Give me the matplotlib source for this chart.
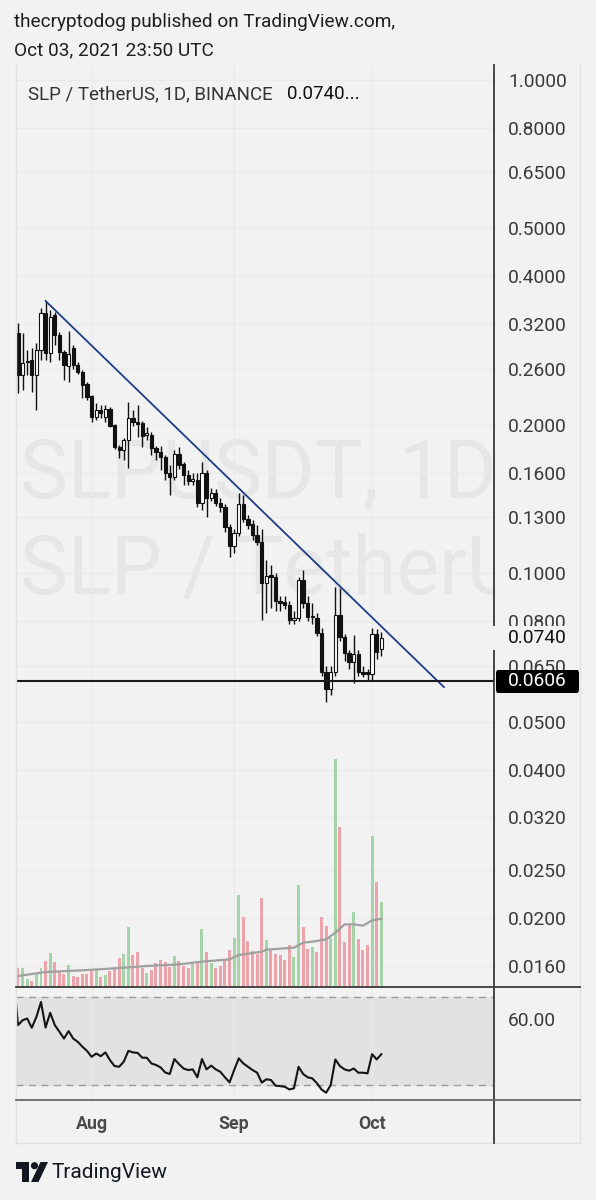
import numpy as np
import pandas as pd
import matplotlib
matplotlib.use('Agg')
import matplotlib.pyplot as plt
from matplotlib.lines import Line2D
from matplotlib.patches import Rectangle, Polygon, Circle, FancyBboxPatch
from matplotlib.ticker import NullLocator, NullFormatter

plt.rcParams['font.family'] = ['Roboto', 'DejaVu Sans']

# SLP / USDT daily candles on Binance, 16 Jul - 3 Oct 2021
dates = pd.date_range('2021-07-16', periods=80, freq='D')
opens = [.3069, .2523, .2682, .2706, .2523, .2836, .3370, .2796, .3339, .3041,
         .2809, .2632, .2862, .2645, .2559, .2420, .2288, .2074, .2143, .2074,
         .2153, .1998, .1803, .1778, .1863, .2065, .2027, .2017, .1907, .1907,
         .1795, .1762, .1721, .1597, .1567, .1745, .1665, .1582, .1538, .1545,
         .1388, .1597, .1421, .1455, .1388, .1362, .1241, .1136, .1207, .1381,
         .1288, .1259, .1196, .1157, .0955, .0990, .0983, .0878, .0874, .0862,
         .0804, .0811, .0969, .0870, .0815, .0811, .0757, .0631, .0583, .0631,
         .0823, .0743, .0689, .0661, .0686, .0631, .0631, .0625, .0753, .0702]
highs = [.3217, .3069, .2836, .2862, .2930, .3449, .3565, .3418, .3386, .3084,
         .2830, .3098, .2900, .2680, .2580, .2440, .2300, .2215, .2190, .2195,
         .2170, .2010, .1820, .1880, .2225, .2143, .2195, .2040, .1980, .1930,
         .1810, .1815, .1740, .1658, .1778, .1803, .1680, .1620, .1600, .1600,
         .1681, .1620, .1490, .1480, .1421, .1380, .1260, .1230, .1455, .1440,
         .1310, .1280, .1253, .1230, .1064, .1038, .1000, .0900, .0900, .0880,
         .0840, .0983, .1017, .0900, .0870, .0830, .0775, .0650, .0650, .0938,
         .0935, .0755, .0700, .0750, .0700, .0650, .0640, .0775, .0770, .0760]
lows = [.2320, .2352, .2523, .2331, .2143, .2706, .2706, .2682, .2903, .2706,
        .2465, .2442, .2600, .2530, .2266, .2250, .2027, .2050, .2060, .2027,
        .1980, .1790, .1713, .1700, .1635, .1990, .1889, .1803, .1863, .1740,
        .1700, .1620, .1545, .1440, .1545, .1630, .1510, .1510, .1510, .1362,
        .1343, .1300, .1400, .1370, .1330, .1210, .1079, .1100, .1190, .1270,
        .1230, .1170, .1140, .0804, .0831, .0850, .0840, .0840, .0845, .0790,
        .0790, .0800, .0850, .0800, .0790, .0745, .0620, .0548, .0566, .0620,
        .0730, .0665, .0640, .0600, .0620, .0615, .0606, .0608, .0670, .0680]
closes = [.2523, .2669, .2694, .2523, .2836, .3370, .2796, .3308, .3041, .2809,
          .2645, .2783, .2645, .2559, .2408, .2277, .2074, .2143, .2113, .2153,
          .1989, .1803, .1778, .1863, .2065, .2027, .2010, .1898, .1925, .1795,
          .1762, .1721, .1597, .1567, .1745, .1658, .1582, .1538, .1550, .1388,
          .1597, .1421, .1455, .1388, .1362, .1241, .1136, .1207, .1381, .1288,
          .1253, .1196, .1157, .0955, .0988, .0983, .0878, .0870, .0862, .0804,
          .0811, .0969, .0870, .0815, .0818, .0757, .0631, .0583, .0631, .0823,
          .0743, .0689, .0661, .0686, .0631, .0625, .0625, .0753, .0692, .0740]
volume_m = [58, 58, 23, 18, 43, 56, 78, 101, 75, 48,
            40, 65, 33, 31, 38, 38, 50, 51, 31, 36,
            48, 60, 86, 98, 181, 96, 106, 58, 43, 50,
            73, 82, 76, 60, 92, 78, 63, 58, 68, 75,
            174, 104, 72, 56, 63, 80, 110, 146, 276, 210,
            138, 108, 98, 268, 140, 110, 100, 96, 82, 126,
            90, 305, 181, 114, 121, 104, 209, 183, 148, 683,
            479, 136, 188, 226, 143, 111, 125, 453, 316, 256]
# volume moving average, read at a few bars
vol_ma_idx = [0, 6, 14, 21, 28, 35, 40, 46, 48, 53, 54, 60, 62, 64, 67, 69, 71, 73, 75, 77, 79]
vol_ma = [33, 45, 50, 56, 63, 68, 76, 83, 96, 106, 112, 118, 133, 136, 143, 163, 188, 188, 184, 200, 205]
# RSI, first value is 15 Jul (clipped at left edge)
rsi = [80.0,
       57.2, 59.4, 60.2, 56.0, 60.9, 67.7, 56.1, 62.8, 57.2, 54.2,
       51.1, 54.5, 51.1, 49.6, 47.4, 45.5, 42.8, 44.3, 43.1, 44.8,
       41.3, 38.6, 38.3, 40.6, 45.5, 44.8, 44.6, 42.4, 42.4, 39.8,
       39.1, 38.0, 35.7, 35.0, 41.8, 39.5, 37.5, 36.8, 37.1, 33.5,
       41.8, 37.1, 38.8, 37.1, 36.0, 33.5, 31.2, 36.8, 42.1, 39.8,
       38.3, 36.8, 35.6, 31.1, 32.6, 32.3, 29.7, 29.5, 29.2, 28.0,
       28.5, 38.3, 35.0, 33.5, 33.0, 30.8, 28.0, 26.5, 30.0, 41.6,
       38.6, 37.1, 36.5, 37.5, 35.6, 35.6, 35.3, 44.0, 41.6, 44.0]
trend_x = [6, 92.6]
trend_y = [0.3565, 0.0588]
support = 0.0606
last_price = 0.0740
price_ticks = [1.0, 0.8, 0.65, 0.5, 0.4, 0.32, 0.26, 0.2, 0.16, 0.13, 0.1,
               0.08, 0.065, 0.05, 0.04, 0.032, 0.025, 0.02, 0.016]
month_labels = ['Aug', 'Sep', 'Oct']

BG = '#f2f2f2'
UP_VOL = '#a6d4a9'
DN_VOL = '#eda3aa'
SCALE_FS = 13.8


def fx(x):
    return x / 596.0


def fy(y):
    return 1 - y / 1200.0


fig = plt.figure(figsize=(5.96, 12), dpi=100, facecolor=BG)

L, R = 15.7, 494
x = np.arange(len(dates))
o = np.array(opens); h = np.array(highs); l = np.array(lows); c = np.array(closes)
up = c >= o

# ---- price pane
ax = fig.add_axes([fx(L), fy(987), fx(R) - fx(L), fy(65) - fy(987)], facecolor=BG)
ax.set_yscale('log')
ax.set_ylim(0.01450, 1.0725)
ax.set_xlim(-0.5, 103.5)
ax.text(0.009, 0.555, 'SLPUSDT, 1D', transform=ax.transAxes, fontsize=58,
        color='#e6e6e6', va='center', ha='left', clip_on=True, zorder=0)
ax.text(0.009, 0.450, 'SLP / TetherUS', transform=ax.transAxes, fontsize=58,
        color='#e6e6e6', va='center', ha='left', clip_on=True, zorder=0)

ax.vlines(x, l, h, color='#111111', lw=1.0, zorder=2)
ax.bar(x, np.abs(c - o), bottom=np.minimum(o, c), width=0.72,
       color=np.where(up, 'white', '#111111'), edgecolor='#111111', lw=0.8, zorder=3)
ax.plot(trend_x, trend_y, color='#1f3d86', lw=1.3, zorder=4)
ax.axhline(support, color='#1a1a1a', lw=1.5, zorder=4)

month_idx = [int(np.where(dates == pd.Timestamp(f'2021-{m:02d}-01'))[0][0]) for m in (8, 9)]
month_idx.append(month_idx[-1] + 30)  # Oct 1

ax.set_xticks(month_idx)
ax.tick_params(axis='x', length=0, labelbottom=False)
ax.set_yticks(price_ticks)
ax.set_yticklabels([f'{t:.4f}' for t in price_ticks])
ax.yaxis.set_minor_locator(NullLocator())
ax.yaxis.set_minor_formatter(NullFormatter())
ax.grid(True, color='#eaeaea', lw=0.8, zorder=0)
for s in ax.spines.values():
    s.set_visible(False)

# volume overlay
axv = ax.twinx()
axv.set_ylim(0, 2766)
axv.bar(x, volume_m, width=0.65, color=np.where(up, UP_VOL, DN_VOL), zorder=1)
axv.plot(vol_ma_idx, vol_ma, color='#a0a0a0', lw=1.6, zorder=2)
axv.yaxis.set_visible(False)
for s in axv.spines.values():
    s.set_visible(False)
ax.yaxis.tick_right()
ax.tick_params(axis='y', length=0, pad=10, labelsize=SCALE_FS, labelcolor='#3a3a3a')

# ---- RSI pane
rax = fig.add_axes([fx(L), fy(1100), fx(R) - fx(L), fy(987) - fy(1100)], facecolor=BG)
rax.set_xlim(-0.5, 103.5)
rax.set_ylim(23.2, 74.5)
rax.axhspan(30, 70, color='#e2e2e5', zorder=0)
rax.axhline(70, color='#9c9c9c', lw=1, dashes=(5, 4))
rax.axhline(30, color='#9c9c9c', lw=1, dashes=(5, 4))
rax.plot(np.arange(-1, len(dates)), rsi, color='#141414', lw=1.5, zorder=3)
rax.set_xticks(month_idx)
rax.set_xticklabels(month_labels)
rax.tick_params(axis='x', length=0, pad=10.5, labelsize=12.8, labelcolor='#4a4a4a')
for lab in rax.get_xticklabels():
    lab.set_fontweight('bold')
rax.set_yticks([60])
rax.set_yticklabels(['60.00'])
rax.yaxis.tick_right()
rax.tick_params(axis='y', length=0, pad=10, labelsize=SCALE_FS, labelcolor='#3a3a3a')
rax.grid(True, axis='x', color='#eaeaea', lw=0.8)
for s in rax.spines.values():
    s.set_visible(False)

# ---- frame lines
def fline(x0, y0, x1, y1, color, lw):
    fig.add_artist(Line2D([fx(x0), fx(x1)], [fy(y0), fy(y1)], color=color, lw=lw,
                          transform=fig.transFigure, zorder=5))

fline(L, 1143, 580, 1143, '#e2e2e2', 1)
fline(580, 65, 580, 1143, '#e2e2e2', 1)
fline(L, 65, L, 1143, '#e2e2e2', 1)
fline(R, 65, R, 1143, '#3a3a3a', 1.3)
fline(L, 987, 580, 987, '#3a3a3a', 1.3)
fline(L, 1100, 580, 1100, '#6a6a6a', 1.3)

# last price and support labels on the scale
fig.add_artist(Rectangle((fx(491), fy(650)), fx(578) - fx(491), fy(626) - fy(650),
                         transform=fig.transFigure, fc=BG, ec='none', zorder=6))
fig.text(fx(508), fy(638), f'{last_price:.4f}', fontsize=SCALE_FS, color='#111111',
         va='center', ha='left', zorder=7)
fig.add_artist(FancyBboxPatch((fx(496), fy(693)), fx(579) - fx(496), fy(670) - fy(693),
                              boxstyle='round,pad=0,rounding_size=0.003',
                              transform=fig.transFigure, fc='#000000', ec='none', zorder=6))
fig.text(fx(508), fy(681.5), f'{support:.4f}', fontsize=SCALE_FS, color='white',
         va='center', ha='left', zorder=7)

# ---- header and legend
fig.text(fx(14), fy(22), 'thecryptodog published on TradingView.com,', fontsize=13.7,
         color='#1e1e1e', va='center', ha='left')
fig.text(fx(14), fy(50), 'Oct 03, 2021 23:50 UTC', fontsize=13.7,
         color='#1e1e1e', va='center', ha='left')
fig.text(fx(28), fy(94), 'SLP / TetherUS, 1D, BINANCE', fontsize=13.5,
         color='#333333', va='center', ha='left')
fig.text(fx(287), fy(94), f'{last_price:.4f}...', fontsize=13.5,
         color='#111111', va='center', ha='left')

# ---- TradingView logo
lax = fig.add_axes([fx(16), fy(1182), fx(48) - fx(16), fy(1162) - fy(1182)])
lax.set_xlim(0, 32)
lax.set_ylim(0, 20)
lax.axis('off')
lax.add_patch(Rectangle((0, 13), 13, 7, fc='#131722', ec='none'))
lax.add_patch(Rectangle((6, 0), 7, 20, fc='#131722', ec='none'))
lax.add_patch(Circle((18.5, 16.3), 3.6, fc='#131722', ec='none'))
lax.add_patch(Polygon([(15, 0), (22.5, 0), (32, 20), (24.5, 20)], closed=True,
                      fc='#131722', ec='none'))
fig.text(fx(52), fy(1172), 'TradingView', fontsize=15, color='#131722',
         va='center', ha='left')

fig.savefig('out.png', dpi=100, facecolor=BG)
